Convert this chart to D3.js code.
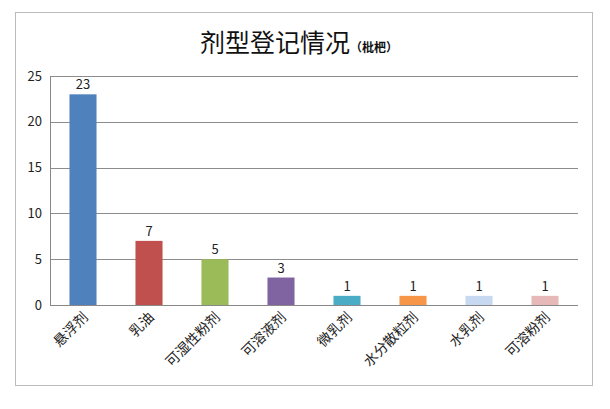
<!DOCTYPE html>
<html><head><meta charset="utf-8">
<script src="https://cdn.jsdelivr.net/npm/d3@7"></script>
<style>body{margin:0;background:#fff}</style></head>
<body><svg id="c" width="610" height="409"></svg>
<script>
const categories=["悬浮剂","乳油","可湿性粉剂","可溶液剂","微乳剂","水分散粒剂","水乳剂","可溶粉剂"];
const values=[23,7,5,3,1,1,1,1];
const colors=["#4F81BD","#C0504D","#9BBB59","#8064A2","#4BACC6","#F79646","#C6D9F1","#E6B9B8"];
const yTicks=[0,5,10,15,20,25];
const svg=d3.select("#c");
const font="'Noto Sans CJK SC','Noto Sans',sans-serif";
svg.append("rect").attr("x",15.5).attr("y",12.5).attr("width",577).attr("height",373).attr("fill","#fff").attr("stroke","#bbb");
const x=d3.scaleBand().domain(categories).range([50,578]).paddingInner(0.59).paddingOuter(0.295);
const y=d3.scaleLinear().domain([0,25]).range([305,76]);
svg.append("g").selectAll("line").data(yTicks).join("line")
 .attr("x1",50).attr("x2",578).attr("y1",d=>Math.round(y(d))+0.5).attr("y2",d=>Math.round(y(d))+0.5)
 .attr("stroke",d=>d===0?"#888":"#8c8c8c").attr("stroke-width",1);
svg.append("g").selectAll("text").data(yTicks).join("text")
 .attr("x",42).attr("y",d=>y(d)+4.5).attr("text-anchor","end").attr("font-size",13).attr("font-family",font).attr("fill","#222").text(d=>d);
svg.append("line").attr("x1",50.5).attr("x2",50.5).attr("y1",76).attr("y2",305).attr("stroke","#888");
svg.append("g").selectAll("rect").data(values).join("rect")
 .attr("x",(d,i)=>x(categories[i])).attr("width",x.bandwidth())
 .attr("y",d=>y(d)).attr("height",d=>305-y(d)).attr("fill",(d,i)=>colors[i]);
svg.append("g").selectAll("text").data(values).join("text")
 .attr("x",(d,i)=>x(categories[i])+x.bandwidth()/2).attr("y",d=>y(d)-5)
 .attr("text-anchor","middle").attr("font-size",13).attr("font-family",font).attr("fill","#222").text(d=>d);
svg.append("g").selectAll("text").data(categories).join("text")
 .attr("transform",d=>`translate(${x(d)+x.bandwidth()/2+6},${318}) rotate(-45)`)
 .attr("text-anchor","end").attr("font-size",14).attr("font-family",font).attr("fill","#222").text(d=>d);
const t=svg.append("text").attr("x",200).attr("y",52).attr("font-family",font).attr("fill","#111");
t.append("tspan").attr("font-size",25).text("剂型登记情况");
t.append("tspan").attr("font-size",12).attr("font-weight","bold").text("（枇杷）");
</script></body></html>
